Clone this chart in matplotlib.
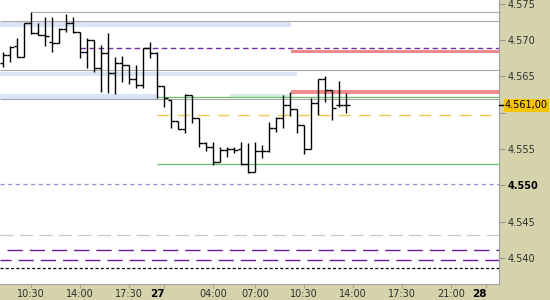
import matplotlib
matplotlib.use("Agg")
import matplotlib.pyplot as plt
import matplotlib.transforms as mtransforms

plt.rcParams['font.family'] = ['DejaVu Sans']
plt.rcParams['lines.scale_dashes'] = False

# 30-min OHLC bars
opens = [4.5668, 4.5680, 4.5692, 4.5677, 4.5723, 4.5710, 4.5707, 4.5697, 4.5696, 4.5715,
         4.5723, 4.5711, 4.5683, 4.5700, 4.5661, 4.5682, 4.5655, 4.5668, 4.5666, 4.5646,
         4.5638, 4.5689, 4.5682, 4.5637, 4.5617, 4.5589, 4.5577, 4.5624, 4.5593, 4.5558,
         4.5553, 4.5532, 4.5549, 4.5550, 4.5550, 4.5529, 4.5518, 4.5547, 4.5547, 4.5579,
         4.5593, 4.5611, 4.5605, 4.5583, 4.5550, 4.5613, 4.5646, 4.5631, 4.5611, 4.5611]
highs = [4.5683, 4.5692, 4.5703, 4.5723, 4.5739, 4.5723, 4.5732, 4.5732, 4.5716, 4.5736,
         4.5732, 4.5711, 4.5703, 4.5700, 4.5693, 4.5710, 4.5677, 4.5678, 4.5666, 4.5666,
         4.5689, 4.5697, 4.5683, 4.5637, 4.5617, 4.5589, 4.5626, 4.5624, 4.5593, 4.5560,
         4.5560, 4.5553, 4.5553, 4.5553, 4.5560, 4.5558, 4.5560, 4.5555, 4.5587, 4.5594,
         4.5624, 4.5628, 4.5605, 4.5583, 4.5620, 4.5646, 4.5650, 4.5631, 4.5644, 4.5627]
lows = [4.5663, 4.5670, 4.5677, 4.5677, 4.5708, 4.5707, 4.5692, 4.5683, 4.5696, 4.5711,
        4.5710, 4.5675, 4.5661, 4.5656, 4.5628, 4.5627, 4.5626, 4.5642, 4.5639, 4.5634,
        4.5634, 4.5675, 4.5620, 4.5608, 4.5579, 4.5577, 4.5572, 4.5586, 4.5553, 4.5547,
        4.5528, 4.5532, 4.5539, 4.5544, 4.5528, 4.5517, 4.5518, 4.5538, 4.5546, 4.5573,
        4.5579, 4.5595, 4.5572, 4.5543, 4.5550, 4.5597, 4.5615, 4.5590, 4.5608, 4.5599]
closes = [4.5679, 4.5690, 4.5677, 4.5723, 4.5710, 4.5707, 4.5705, 4.5696, 4.5715, 4.5723,
          4.5711, 4.5683, 4.5700, 4.5661, 4.5682, 4.5655, 4.5668, 4.5666, 4.5646, 4.5638,
          4.5689, 4.5682, 4.5637, 4.5620, 4.5589, 4.5577, 4.5624, 4.5593, 4.5558, 4.5553,
          4.5532, 4.5549, 4.5550, 4.5549, 4.5529, 4.5518, 4.5547, 4.5547, 4.5579, 4.5593,
          4.5611, 4.5605, 4.5583, 4.5550, 4.5613, 4.5646, 4.5631, 4.5606, 4.5611, 4.5610]
last_price = 4.5610

# x axis labels (bar index of each tick)
tick_pos = [4, 11, 18, 23, 30, 36, 43, 50, 57, 64, 69]
tick_labels = ["10:30", "14:00", "17:30", "27", "04:00", "07:00", "10:30",
               "14:00", "17:30", "21:00", "28"]
y_ticks = [4.575, 4.570, 4.565, 4.560, 4.555, 4.550, 4.545, 4.540]

# horizontal levels: (price, start bar, colour, width, dash)
levels = [
    (4.5739, 4.0, "#a8a8a8", 0.8, None),
    (4.5726, -1, "#a8a8a8", 0.8, None),
    (4.5659, -1, "#a8a8a8", 0.8, None),
    (4.5619, -1, "#a8a8a8", 0.8, None),
    (4.5689, 11.0, "#7030a0", 1.0, (0, (4, 2.5))),
    (4.5622, 22.0, "#6cbf6c", 0.9, None),
    (4.5597, 22.0, "#f0c850", 1.0, (0, (8.5, 6))),
    (4.5529, 22.0, "#6cbf6c", 0.9, None),
    (4.5502, -1, "#8c96d8", 0.9, (0, (3, 2.5))),
    (4.5432, -1, "#c8c8c8", 0.9, (0, (9.5, 4.5))),
    (4.5411, 0.5, "#6a1b9a", 1.0, (0, (11, 5))),
    (4.5397, -1, "#6a1b9a", 1.0, (3, (11, 5))),
    (4.5386, -1, "#000000", 0.9, (0, (2.2, 1.6))),
]
# zones: (low, high, start bar, end bar, colour)
zones = [
    (4.5718, 4.5725, -1, 41.1, "#dce3f5"),
    (4.5650, 4.5656, -1, 42.0, "#dce3f5"),
    (4.5619, 4.5626, -1, 22.0, "#dce3f5"),
    (4.5622, 4.5626, 32.4, 41.1, "#d5ede6"),
    (4.5682, 4.5686, 41.1, 72, "#f28c8c"),
    (4.5626, 4.5631, 41.1, 72, "#f28c8c"),
]

khaki = "#d5d3ab"
fig = plt.figure(figsize=(5.5, 3), dpi=100, facecolor=khaki)
ax = fig.add_axes([0, 1 - 283.5 / 300, 499 / 550, 283.5 / 300])
ax.set_facecolor("white")

x_left = -3.3 / 7
x_right = (499 - 3.3) / 7

for lo, hi, x0, x1, col in zones:
    ax.fill_between([max(x0, x_left), min(x1, x_right)], lo, hi, color=col, lw=0, zorder=1)

for price, start, col, lw, dash in levels:
    ls = "-" if dash is None else dash
    ax.hlines(price, max(start, x_left), x_right, colors=col, lw=lw, linestyles=ls, zorder=2)

idx = list(range(len(opens)))
ax.vlines(idx, lows, highs, color="black", lw=1.0, zorder=3)
ax.hlines(opens, [i - 0.5 for i in idx], idx, color="black", lw=1.0, zorder=3)
ax.hlines(closes, idx, [i + 0.5 for i in idx], color="black", lw=1.0, zorder=3)

ax.set_xlim(x_left, x_right)
ax.set_ylim(4.5755 - 283.5 / 7270, 4.5755)

for s in ["top", "left"]:
    ax.spines[s].set_visible(False)
for s in ["right", "bottom"]:
    ax.spines[s].set_color("#a0a0a0")
    ax.spines[s].set_linewidth(0.8)

ax.yaxis.tick_right()
ax.set_yticks(y_ticks)
# 4.560 sits behind the current-price box
ax.set_yticklabels(["" if v == 4.560 else f"{v:.3f}" for v in y_ticks])
ax.tick_params(axis="y", labelsize=7, colors="#303030", length=4, width=0.7, pad=2)
ax.tick_params(axis="y", color="#909090")
for lab, v in zip(ax.get_yticklabels(), y_ticks):
    if v == 4.550:
        lab.set_fontweight("bold")
        lab.set_color("black")

ax.set_xticks(tick_pos)
ax.set_xticklabels(tick_labels)
ax.tick_params(axis="x", labelsize=7, colors="#303030", length=3, width=0.7, pad=0.8)
ax.tick_params(axis="x", color="#a0a0a0")
for lab in ax.get_xticklabels():
    if lab.get_text() in ("27", "28"):
        lab.set_fontweight("bold")
        lab.set_fontsize(7.5)
        lab.set_color("black")
        lab.set_horizontalalignment("right")

# current price box
trans = mtransforms.blended_transform_factory(ax.transAxes, ax.transData)
ax.text(1.012, last_price, "4.561,00", transform=trans, fontsize=7, va="center", ha="left",
        color="black", zorder=10, clip_on=False,
        bbox=dict(facecolor="#f5c400", edgecolor="none", boxstyle="square,pad=0.15"))
ax.plot([1.0, 1.008], [last_price, last_price], transform=trans, color="black", lw=1,
        clip_on=False, zorder=10)

fig.savefig("out.png", dpi=100, facecolor=khaki)
